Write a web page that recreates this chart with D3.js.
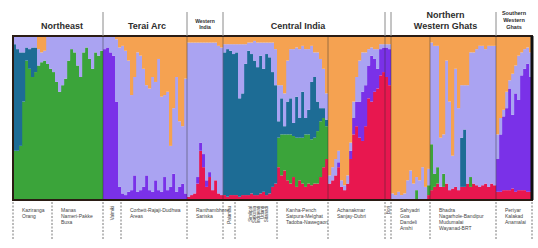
<!DOCTYPE html>
<html><head><meta charset="utf-8">
<script src="https://cdn.jsdelivr.net/npm/d3@7"></script>
<style>body{margin:0;background:#fff}svg{display:block}</style>
</head><body>
<svg id="c" width="538" height="248"></svg>
<script>
// ---- regions (header) ----
const regionNames = [["Northeast"],["Terai Arc"],["Western","India"],["Central India"],[],["Northern","Western Ghats"],["Southern","Western","Ghats"]];
const regionSizes = [30,28,12,54,2,35,12];
// ---- sub-populations (footer) ----
const groupLabels = [
  ["Kaziranga","Orang"],
  ["Manas","Nameri-Pakke","Buxa"],
  ["Valmiki"],
  ["Corbett-Rajaji-Dudhwa","Areas"],
  ["Ranthambhore","Sariska"],
  ["Palamau"],
  ["Simlipal","Satkosia","Indravati","Udanti","Sitanadi"],
  ["Kanha-Pench","Satpura-Melghat","Tadoba-Nawegaon"],
  ["Achanakmar","Sanjay-Dubri"],
  ["Bori"],
  ["Sahyadri","Goa","Dandeli","Anshi"],
  ["Bhadra","Nagarhole-Bandipur","Mudumalai","Wayanad-BRT"],
  ["Periyar","Kalakad","Anamalai"]
];
const groupSizes = [13,17,6,22,12,4,14,17,19,2,13,22,12];
const groupOrient = ["h","h","r","h","h","r","r","h","h","r","h","h","h"];
// ---- cluster memberships (percent), one entry per individual ----
const seriesNames = ["red","green","teal","violet","lavender","orange"];
const red = [
  0,0,0,0,0,0,0,0,0,0,0,0,0,0,0,0,0,0,0,0,0,0,0,0,0,0,0,0,0,0,
  0,0,0,0,0,0,0,0,0,0,0,0,0,0,0,0,0,0,0,0,0,0,0,0,0,0,0,0,
  2,3,4,10,30,20,8,14,6,12,4,3,
  3,2,3,3,3,2,3,3,3,4,3,3,4,5,3,4,8,10,
  20,15,18,12,10,14,8,12,10,8,10,9,10,10,14,20,25,
  10,12,15,20,8,6,10,25,40,45,38,36,45,62,60,66,68,76,78,
  75,70,
  0,0,0,0,0,0,0,0,0,0,0,0,3,
  6,8,10,8,8,10,6,7,8,6,8,8,10,8,10,9,8,9,10,8,10,9,
  5,5,6,6,6,7,5,6,6,6,5,5
];
const green = [
  30,30,33,60,85,80,75,78,82,84,85,83,80,78,72,66,70,74,85,92,90,82,75,90,93,86,80,90,88,91,
  0,0,0,0,0,0,0,0,0,0,0,0,0,0,0,0,0,0,0,0,0,0,0,0,0,0,0,0,
  0,0,0,0,0,0,0,0,0,0,0,0,
  0,0,0,0,0,0,0,0,0,0,0,0,0,0,0,0,0,0,
  18,25,22,28,30,25,30,26,28,32,30,28,28,32,34,30,20,
  0,0,0,0,0,0,0,0,0,0,0,0,0,0,0,0,0,0,0,
  0,0,
  0,0,0,0,0,0,0,0,6,0,0,0,6,
  28,8,10,0,8,0,0,0,0,0,0,0,0,6,0,0,0,0,0,0,0,0,
  0,0,0,0,0,0,0,0,0,0,0,0
];
const teal = [
  65,62,57,30,8,12,18,15,0,0,0,0,0,0,0,0,0,0,0,0,0,0,0,0,0,0,0,0,0,0,
  0,0,0,0,0,0,0,0,0,0,0,0,0,0,0,0,0,0,0,0,0,0,0,0,0,0,0,0,
  0,0,0,0,0,0,0,0,0,0,0,0,
  87,90,88,86,87,60,62,80,88,85,82,78,84,75,86,83,70,60,
  10,22,5,20,22,8,25,12,28,10,15,35,37,18,8,6,4,
  0,0,0,0,0,0,0,0,0,0,0,0,0,0,0,0,0,0,0,
  0,0,
  0,0,0,0,0,0,0,0,0,0,0,0,0,
  0,0,0,0,0,0,0,0,0,0,30,35,0,0,0,0,0,0,0,0,0,0,
  0,0,0,0,0,0,0,0,0,0,0,0
];
const violet = [
  0,0,0,0,0,0,0,0,0,0,0,0,0,0,0,0,0,0,0,0,0,0,0,0,0,0,0,0,0,0,
  92,93,90,88,60,8,4,3,5,6,15,5,6,8,15,6,5,12,6,5,14,6,8,16,5,8,10,4,
  0,0,0,4,5,8,4,3,0,0,0,0,
  0,0,0,0,0,0,0,0,0,0,0,0,0,0,0,0,0,0,
  0,0,0,0,0,0,0,0,0,0,0,0,0,0,0,0,0,
  0,0,0,3,0,0,0,5,10,15,22,30,25,20,28,20,12,16,15,
  18,22,
  0,0,0,0,0,0,0,0,0,0,0,0,0,
  0,0,0,0,0,0,0,0,0,0,0,0,0,0,0,0,0,0,0,0,0,0,
  20,35,45,50,62,45,60,55,70,74,78,70
];
const lavender = [
  5,8,10,10,7,8,7,7,10,6,6,17,20,22,28,34,30,26,15,8,10,18,25,10,7,14,20,10,12,9,
  8,7,10,12,38,85,90,88,80,58,60,85,82,72,55,62,70,60,80,58,50,60,25,40,70,40,35,70,
  94,93,92,82,61,68,84,79,90,84,90,90,
  5,3,4,6,5,33,30,12,5,7,12,15,8,16,7,9,18,22,
  22,8,20,25,30,45,30,42,28,42,37,22,15,30,30,24,16,
  5,8,10,7,4,3,5,5,10,15,25,24,20,10,5,6,12,3,2,
  2,3,
  4,3,5,3,4,12,18,10,8,12,20,8,10,
  62,78,74,30,24,75,54,20,72,50,32,27,60,76,80,83,86,85,82,86,84,85,
  15,10,4,10,5,25,17,27,14,12,10,15
];
const orange = [
  0,0,0,0,0,0,0,0,8,10,9,0,0,0,0,0,0,0,0,0,0,0,0,0,0,0,0,0,0,0,
  0,0,0,0,2,7,6,9,15,36,25,10,12,20,30,32,25,28,14,37,36,34,67,44,25,52,55,26,
  4,4,4,4,4,4,4,4,4,4,6,7,
  5,5,5,5,5,5,5,5,4,4,3,4,4,4,4,4,4,8,
  30,30,35,15,8,8,7,8,6,8,8,6,10,10,14,20,35,
  85,80,75,70,88,91,85,65,40,25,15,10,10,8,7,8,8,5,5,
  5,5,
  96,97,95,97,96,88,82,90,86,88,80,92,81,
  4,6,6,62,60,15,40,73,20,44,30,30,30,10,10,8,6,6,8,6,6,6,
  60,50,45,34,27,23,18,12,10,8,7,10
];

// ---- styling / layout ----
const colors = {red:"#e8174f",green:"#3ba43a",teal:"#1d6c95",violet:"#7a31e8",lavender:"#aaa3f2",orange:"#f5a251"};
const plot = {x0:13,x1:532,y0:36,y1:200};
const regionFont = [9,9,5,9,0,9,5.5];
const regionDx = [4,2,0,-6,0,2,0];

const series = {red,green,teal,violet,lavender,orange};
const N = red.length;
const rows = d3.range(N).map(i => { const o = {i}; seriesNames.forEach(k => o[k] = series[k][i]); return o; });

const svg = d3.select("#c");
const x = d3.scaleBand().domain(d3.range(N)).range([plot.x0, plot.x1]).padding(0);
const y = d3.scaleLinear().domain([0,1]).range([plot.y1, plot.y0]);
const bw = x.bandwidth();

const stacked = d3.stack().keys(seriesNames).offset(d3.stackOffsetExpand)(rows);

svg.append("g").selectAll("g").data(stacked).join("g")
  .attr("fill", d => colors[d.key])
  .selectAll("rect").data(d => d).join("rect")
  .attr("x", (d,i) => x(i))
  .attr("width", bw + 0.2)
  .attr("y", d => y(d[1]))
  .attr("height", d => Math.max(0, y(d[0]) - y(d[1])));

// boundaries
const cum = arr => { const out=[0]; arr.forEach(v => out.push(out[out.length-1]+v)); return out; };
const regionB = cum(regionSizes);
const groupB = cum(groupSizes);
const xb = idx => idx >= N ? plot.x1 : x(idx);

// inner separators
const innerIdx = Array.from(new Set(regionB.slice(1,-1).concat([groupB[8], groupB[11]])));
svg.append("g").selectAll("line").data(innerIdx).join("line")
  .attr("x1", d => xb(d)).attr("x2", d => xb(d))
  .attr("y1", plot.y0).attr("y2", plot.y1)
  .attr("stroke", "#2b2b2b").attr("stroke-width", 0.8).attr("opacity", 0.55);

// frame
svg.append("rect").attr("x", plot.x0).attr("y", plot.y0)
  .attr("width", plot.x1 - plot.x0).attr("height", plot.y1 - plot.y0)
  .attr("fill", "none").attr("stroke", "#2a1c14").attr("stroke-width", 2);
svg.append("line").attr("x1", plot.x1).attr("x2", plot.x1).attr("y1", plot.y0).attr("y2", plot.y1)
  .attr("stroke", "#111").attr("stroke-width", 3);

// header separators
svg.append("g").selectAll("line").data(regionB.slice(1,-1)).join("line")
  .attr("x1", d => xb(d)).attr("x2", d => xb(d))
  .attr("y1", 12).attr("y2", plot.y0)
  .attr("stroke", "#8a8a8a").attr("stroke-width", 1);

// header labels
const hg = svg.append("g").attr("font-family", "Liberation Sans, Arial, sans-serif").attr("font-weight", "bold").attr("fill", "#2d2d2d").attr("text-anchor", "middle");
regionNames.forEach((lines, r) => {
  if (!lines.length) return;
  const cx = (xb(regionB[r]) + xb(regionB[r+1])) / 2 + regionDx[r];
  const fs = regionFont[r];
  const lh = fs * 1.2;
  lines.forEach((t, k) => {
    hg.append("text").attr("x", cx).attr("y", 28.5 - (lines.length - 1 - k) * lh)
      .attr("font-size", fs).text(t);
  });
});

// footer dividers
svg.append("g").selectAll("line").data(groupB).join("line")
  .attr("x1", d => xb(d)).attr("x2", d => xb(d))
  .attr("y1", 202).attr("y2", 240)
  .attr("stroke", "#555").attr("stroke-width", 0.8).attr("stroke-dasharray", "2,1.5");

// footer labels
const fg = svg.append("g").attr("font-family", "Liberation Sans, Arial, sans-serif").attr("fill", "#444").attr("font-size", 5);
groupLabels.forEach((lines, g) => {
  const gx0 = xb(groupB[g]), gx1 = xb(groupB[g+1]);
  if (groupOrient[g] === "h") {
    lines.forEach((t, k) => {
      fg.append("text").attr("x", gx0 + 9).attr("y", 212 + k * 6).text(t);
    });
  } else {
    const cx = (gx0 + gx1) / 2;
    const startX = lines.length > 1 ? gx0 + 15 : cx;
    lines.forEach((t, k) => {
      fg.append("text").attr("transform", `translate(${startX + k*4},206) rotate(-90)`)
        .attr("text-anchor", "end").attr("dy", "0.35em").attr("font-size", 4.5).text(t);
    });
  }
});
</script>
</body></html>
